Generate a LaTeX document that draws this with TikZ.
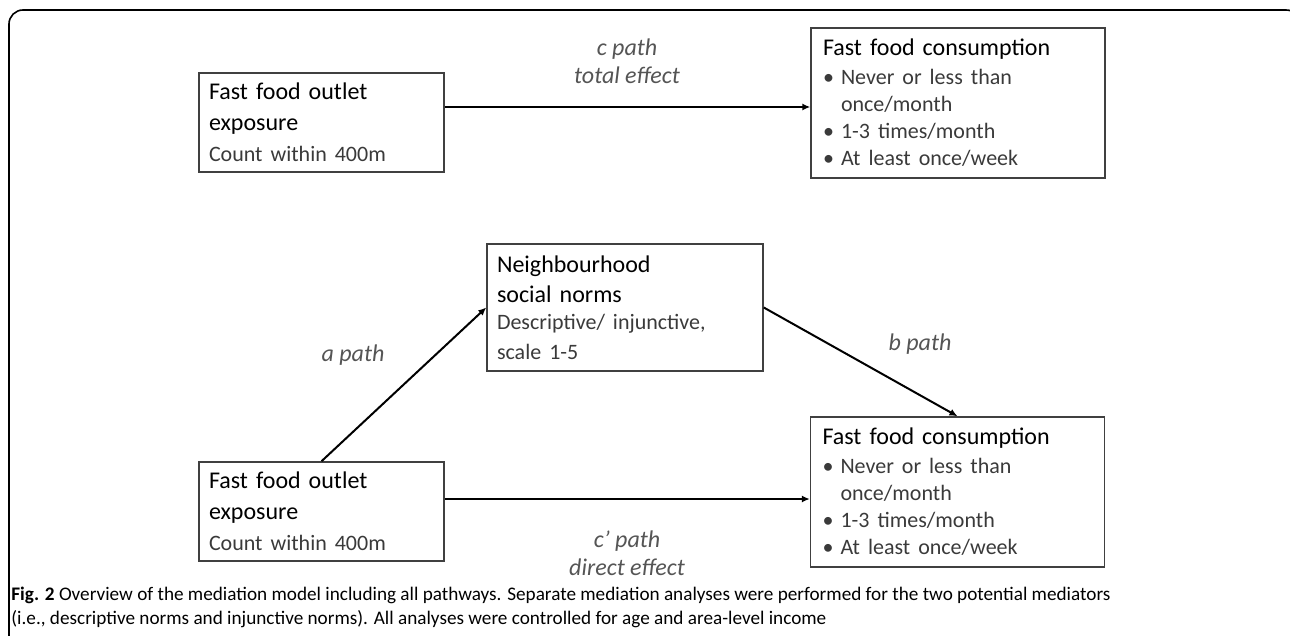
\documentclass[tikz,border=0pt]{standalone}
\usepackage{fontspec}
\setmainfont{Carlito}
\usetikzlibrary{arrows.meta,positioning}

\definecolor{boxline}{HTML}{404040}
\definecolor{subgray}{HTML}{3A3A3A}
\definecolor{pathgray}{HTML}{555555}

\newcommand{\fbul}{\makebox[9pt][l]{\textbullet}}
\newcommand{\subtxt}{\fontsize{11}{13.5}\selectfont\color{subgray}}

\begin{document}
\begin{tikzpicture}[
    x=0.5pt, y=-0.5pt,
    box/.style={
        rectangle,
        draw=boxline,
        line width=0.75pt,
        align=left,
        inner xsep=5pt,
        inner ysep=2pt,
        font=\fontsize{12}{15.5}\selectfont
    },
    expo/.style={box, minimum width=122.5pt, minimum height=49.5pt, text width=112.5pt},
    cons/.style={box, minimum width=147pt, minimum height=75pt, text width=135pt,
        font=\fontsize{12}{13.5}\selectfont},
    mediator/.style={box, minimum width=138pt, minimum height=63.5pt, text width=128pt,
        font=\fontsize{12}{15}\selectfont},
    pathlabel/.style={align=center, text=pathgray, font=\fontsize{12}{14}\selectfont\itshape},
    flow/.style={-{Latex[length=4pt,width=3.6pt]}, line width=1pt},
    caption/.style={anchor=base west, align=left, inner sep=0pt,
        font=\fontsize{9.6}{11}\selectfont}
]
\useasboundingbox (0,0) rectangle (1290,636);
\begin{scope}
    \clip (0,0) rectangle (1290,636);
    \draw[line width=0.8pt, rounded corners=7pt] (9,10) rectangle (1300,680);
\end{scope}

% total effect model
\node[expo] (expoA) at (321.5,122.5) {Fast food outlet\\exposure\\{\subtxt Count within 400m}};
\node[cons] (consA) at (958,103) {Fast food consumption\\[1pt]
    {\subtxt\fbul Never or less than\\
    \hspace*{9pt}once/month\\
    \fbul 1-3 times/month\\
    \fbul At least once/week}};
\draw[flow] ([yshift=-2pt]consA.west -| expoA.east) -- ([yshift=-2pt]consA.west);
\node[pathlabel] (clabel) at (627,61) {c path\\total effect};

% mediation model
\node[mediator] (norms) at (625,307.5) {Neighbourhood\\social norms\\
    {\subtxt Descriptive/ injunctive,\\scale 1-5}};
\node[expo] (expoB) at (321.5,511.5) {Fast food outlet\\exposure\\{\subtxt Count within 400m}};
\node[cons] (consB) at (957.5,492) {Fast food consumption\\[1pt]
    {\subtxt\fbul Never or less than\\
    \hspace*{9pt}once/month\\
    \fbul 1-3 times/month\\
    \fbul At least once/week}};
\draw[flow] (expoB.north) -- (norms.west);
\draw[flow] (norms.east) -- (consB.north);
\draw[flow] ([yshift=-3.5pt]consB.west -| expoB.east) -- ([yshift=-3.5pt]consB.west);
\node[pathlabel] (alabel) at (353,355) {a path};
\node[pathlabel] (blabel) at (920,344) {b path};
\node[pathlabel] (cplabel) at (627,553) {c’ path\\direct effect};

% caption
\node[caption] (figcap) at (11,624) {\textbf{Fig. 2} Overview of the mediation model including all pathways. Separate mediation analyses were performed for the two potential mediators\\[1pt]
(i.e., descriptive norms and injunctive norms). All analyses were controlled for age and area-level income};
\end{tikzpicture}
\end{document}
